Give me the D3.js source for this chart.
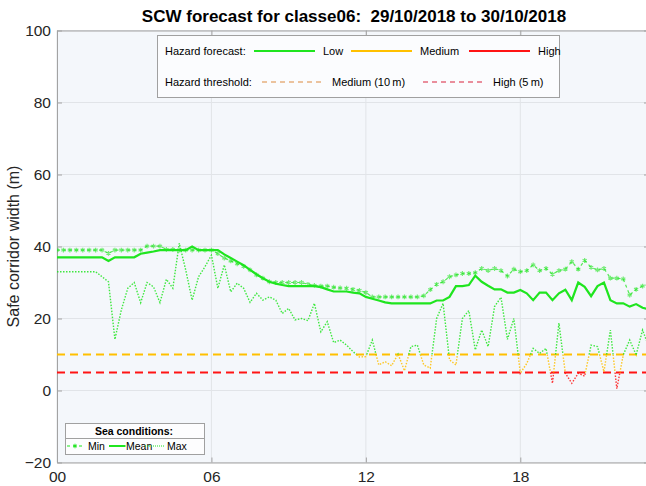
<!DOCTYPE html>
<html lang="en">
<head>
<meta charset="utf-8">
<script src="https://d3js.org/d3.v7.min.js"></script>
<style>
  body { margin: 0; background: #fff; }
  text { font-family: "Liberation Sans", Arial, Helvetica, sans-serif; }
</style>
</head>
<body>
<script>
// time axis: 15 min steps from 00:00 to 23:00
var hours = d3.range(0, 23.001, 0.25);
var xTickValues = [0, 6, 12, 18];
var yTickValues = [-20, 0, 20, 40, 60, 80, 100];

// safe corridor width (m) for the three sea conditions
var minSea = [39,39,39,39,39,39,39,39,38.1,39,
  39,39,39,39,40.1,40.1,40.1,39.2,39.2,39,
  39,39,39,39,39,38,36.8,36,35.2,34.5,
  33.5,32.1,31.2,30.2,30,30,30,30,30,29.5,
  29.2,29,29,28.7,28.5,28.4,28.1,27.8,27.2,26,
  26,26,26,26,26,26,26,26.3,28,29.5,
  30.2,31.6,32.1,32.5,32.5,32.7,33.9,33.3,33.9,33.3,
  31.8,33.7,33,33.3,34.9,33.3,33.9,32.3,33.3,33.7,
  35.8,33.7,36.1,34.2,33.5,33.9,31.2,31.2,31,26.5,
  28.1,29,29.5];
var meanSea = [37,37,37,37,37,37,37,37,36,37,
  37,37,37,38,38.3,38.6,39,39,39,39,
  39,40,39,39,39,39,37.8,36.8,35.8,34.8,
  33.5,32.3,31.2,30.2,29.7,29.3,29,29,29,29,
  29,28.7,28.1,27.5,27.5,27.5,27.2,27,26,25.5,
  25,24.5,24.2,24.2,24.2,24.2,24.2,24.2,24.2,25,
  25,26,29,29,29.3,31.9,30.2,29.1,28.1,28.1,
  27.2,27.2,27.9,27,25.1,27.2,27.2,25.1,27,28,
  25.1,30,28.8,26.2,29,30,25.1,24.2,24.2,23.3,
  24,23,22.5];
var maxSea = [33,33,33,33,33,33,33,31.6,30.2,14.2,
  22.4,28.4,30,24.4,30,28.8,24.4,30.9,28.4,40.9,
  33.5,25.1,31.6,34.4,37.6,28.4,34.9,27.4,29.8,28.4,
  24.5,27,25.1,26,25.1,21.4,22.8,19.6,20,19.4,
  24.2,16.3,19.1,13.3,14,12.6,10.8,9.3,9.4,14,
  7.1,8,6.9,10.1,5.5,12.2,12.6,7.1,6.2,20,
  24.2,8.5,7.1,20,22.2,11.3,16.8,12.2,23.3,25.9,
  14.2,20,4.8,7.5,11.7,10.3,11.7,2,18.7,4.8,
  2,4.8,4,12.6,12.2,5.2,16.8,0.5,9.9,14,
  9.9,16.8,12];

var thresholdMedium = 10;
var thresholdHigh = 5;

var cLow = "#1fe51f", cMed = "#ffc000", cHigh = "#ff1414";

var w = 646, h = 486;
var pLeft = 57, pRight = 649, pTop = 30.5, pBottom = 462.5;

var x = d3.scaleLinear().domain([0, 23]).range([pLeft, pRight]);
var y = d3.scaleLinear().domain([-20, 100]).range([pBottom, pTop]);

var svg = d3.select("body").append("svg")
  .attr("width", w).attr("height", h);

svg.append("defs").append("clipPath").attr("id", "clip")
  .append("rect").attr("x", pLeft).attr("y", pTop)
  .attr("width", pRight - pLeft).attr("height", pBottom - pTop);

// plot background
svg.append("rect").attr("x", pLeft).attr("y", pTop)
  .attr("width", pRight - pLeft).attr("height", pBottom - pTop)
  .attr("fill", "#f4f7fb");

// grid
svg.append("g").selectAll("line").data(yTickValues).enter().append("line")
  .attr("x1", pLeft).attr("x2", pRight)
  .attr("y1", function(d) { return y(d); }).attr("y2", function(d) { return y(d); })
  .attr("stroke", "#e1e4e8").attr("stroke-width", 1);
svg.append("g").selectAll("line").data(xTickValues).enter().append("line")
  .attr("y1", pTop).attr("y2", pBottom)
  .attr("x1", function(d) { return x(d); }).attr("x2", function(d) { return x(d); })
  .attr("stroke", "#e1e4e8").attr("stroke-width", 1);

// axes
var xAxis = svg.append("g").attr("transform", "translate(0," + pBottom + ")")
  .call(d3.axisBottom(x).tickValues(xTickValues)
    .tickFormat(d3.format("02d")).tickSizeInner(-5).tickSizeOuter(0).tickPadding(8));
var xTop = svg.append("g").attr("transform", "translate(0," + pTop + ")")
  .call(d3.axisTop(x).tickValues(xTickValues).tickFormat("").tickSizeInner(-5).tickSizeOuter(0));
var yAxis = svg.append("g").attr("transform", "translate(" + pLeft + ",0)")
  .call(d3.axisLeft(y).tickValues(yTickValues).tickSizeInner(-5).tickSizeOuter(0).tickPadding(6));
var yRight = svg.append("g").attr("transform", "translate(" + pRight + ",0)")
  .call(d3.axisRight(y).tickValues(yTickValues).tickFormat("").tickSizeInner(-5).tickSizeOuter(0));

[xAxis, xTop, yAxis, yRight].forEach(function(g) {
  g.selectAll("path.domain").attr("stroke", "#a3a3a3");
  g.selectAll(".tick line").attr("stroke", "#a3a3a3");
  g.selectAll("text").attr("fill", "#262626").style("font-size", "15.5px");
});

// axis label
svg.append("text")
  .attr("transform", "translate(19," + ((pTop + pBottom) / 2) + ") rotate(-90)")
  .attr("text-anchor", "middle")
  .style("font-size", "16px").attr("fill", "#262626")
  .text("Safe corridor width (m)");

// title
svg.append("text")
  .attr("x", 354).attr("y", 22)
  .attr("text-anchor", "middle")
  .style("font-size", "17px").style("font-weight", "bold")
  .style("white-space", "pre")
  .text("SCW forecast for classe06:  29/10/2018 to 30/10/2018");

var plot = svg.append("g").attr("clip-path", "url(#clip)");

// hazard thresholds
plot.append("line")
  .attr("x1", pLeft).attr("x2", pRight)
  .attr("y1", y(thresholdMedium)).attr("y2", y(thresholdMedium))
  .attr("stroke", cMed).attr("stroke-width", 2).attr("stroke-dasharray", "8,5");
plot.append("line")
  .attr("x1", pLeft).attr("x2", pRight)
  .attr("y1", y(thresholdHigh)).attr("y2", y(thresholdHigh))
  .attr("stroke", cHigh).attr("stroke-width", 2).attr("stroke-dasharray", "8,5");

function hazardColor(v) {
  if (v < thresholdHigh) return cHigh;
  if (v < thresholdMedium) return cMed;
  return cLow;
}

// split a series into runs of one hazard colour, cutting at threshold crossings
function hazardRuns(vals) {
  var runs = [], cur = null;
  for (var i = 0; i < vals.length - 1; i++) {
    var a = [hours[i], vals[i]], b = [hours[i + 1], vals[i + 1]];
    var cuts = [];
    [thresholdHigh, thresholdMedium].forEach(function(th) {
      if ((a[1] - th) * (b[1] - th) < 0) {
        cuts.push([a[0] + (th - a[1]) / (b[1] - a[1]) * (b[0] - a[0]), th]);
      }
    });
    cuts.sort(function(p, q) { return p[0] - q[0]; });
    var pts = [a].concat(cuts, [b]);
    for (var k = 0; k < pts.length - 1; k++) {
      var c = hazardColor((pts[k][1] + pts[k + 1][1]) / 2);
      if (cur && cur.c === c) cur.pts.push(pts[k + 1]);
      else { cur = { c: c, pts: [pts[k], pts[k + 1]] }; runs.push(cur); }
    }
  }
  return runs;
}

var line = d3.line()
  .x(function(d) { return x(d[0]); })
  .y(function(d) { return y(d[1]); });

function drawSeries(vals, width, dash, opacity) {
  plot.append("g").selectAll("path").data(hazardRuns(vals)).enter().append("path")
    .attr("d", function(d) { return line(d.pts); })
    .attr("fill", "none")
    .attr("stroke", function(d) { return d.c; })
    .attr("stroke-width", width)
    .attr("stroke-opacity", opacity)
    .attr("stroke-dasharray", dash);
}

// Max sea conditions: dotted
drawSeries(maxSea, 1.4, "1.5,1.5", 0.85);
// Min sea conditions: dashed with markers
drawSeries(minSea, 1.2, "3,3", 0.75);
var star = d3.symbol().type(d3.symbolAsterisk).size(16);
plot.append("g").selectAll("path").data(minSea).enter().append("path")
  .attr("transform", function(d, i) { return "translate(" + x(hours[i]) + "," + y(d) + ")"; })
  .attr("d", star)
  .attr("fill", "none")
  .attr("stroke", function(d) { return hazardColor(d); })
  .attr("stroke-opacity", 0.6)
  .attr("stroke-width", 1.2);
// Mean: solid
drawSeries(meanSea, 2.2, null, 1);

// top legend
var lg = svg.append("g");
lg.append("rect").attr("x", 157.5).attr("y", 35.5).attr("width", 402).attr("height", 62)
  .attr("fill", "#fbfcfe").attr("stroke", "#a0a0a0").attr("stroke-width", 1);
var fs = "11px";
lg.append("text").attr("x", 165).attr("y", 55).style("font-size", fs).text("Hazard forecast:");
[[254, cLow, "Low"], [351, cMed, "Medium"], [469, cHigh, "High"]].forEach(function(d) {
  lg.append("line").attr("x1", d[0]).attr("x2", d[0] + 61).attr("y1", 51).attr("y2", 51)
    .attr("stroke", d[1]).attr("stroke-width", 2);
  lg.append("text").attr("x", d[0] + 69).attr("y", 55).style("font-size", fs).text(d[2]);
});
lg.append("text").attr("x", 165).attr("y", 86).style("font-size", fs).text("Hazard threshold:");
[[262, "#dc8a3e", "Medium (10\u2009m)"], [423, "#d8203a", "High (5\u2009m)"]].forEach(function(d) {
  lg.append("line").attr("x1", d[0]).attr("x2", d[0] + 63).attr("y1", 82).attr("y2", 82)
    .attr("stroke", d[1]).attr("stroke-width", 1).attr("stroke-dasharray", "5,4");
  lg.append("text").attr("x", d[0] + 70).attr("y", 86).style("font-size", fs).text(d[2]);
});

// sea conditions legend
var sg = svg.append("g");
sg.append("rect").attr("x", 65.5).attr("y", 423.5).attr("width", 139).attr("height", 31)
  .attr("fill", "#fdfdfe").attr("stroke", "#a0a0a0").attr("stroke-width", 1);
sg.append("line").attr("x1", 65.5).attr("x2", 204.5).attr("y1", 438.5).attr("y2", 438.5)
  .attr("stroke", "#a0a0a0");
sg.append("text").attr("x", 134).attr("y", 435).attr("text-anchor", "middle")
  .style("font-size", "10.5px").style("font-weight", "bold").text("Sea conditions:");
sg.append("line").attr("x1", 67).attr("x2", 83).attr("y1", 446).attr("y2", 446)
  .attr("stroke", cLow).attr("stroke-width", 1.2).attr("stroke-dasharray", "3,3");
sg.append("path").attr("transform", "translate(75,446)").attr("d", d3.symbol().type(d3.symbolAsterisk).size(14))
  .attr("fill", "none").attr("stroke", cLow);
sg.append("text").attr("x", 88).attr("y", 450).style("font-size", "10.5px").text("Min");
sg.append("line").attr("x1", 109).attr("x2", 125.5).attr("y1", 446).attr("y2", 446)
  .attr("stroke", cLow).attr("stroke-width", 2);
sg.append("text").attr("x", 126).attr("y", 450).style("font-size", "10.5px").text("Mean");
sg.append("line").attr("x1", 145).attr("x2", 165).attr("y1", 446).attr("y2", 446)
  .attr("stroke", cLow).attr("stroke-width", 1.2).attr("stroke-dasharray", "1,1");
sg.append("text").attr("x", 167).attr("y", 450).style("font-size", "10.5px").text("Max");
</script>
</body>
</html>
